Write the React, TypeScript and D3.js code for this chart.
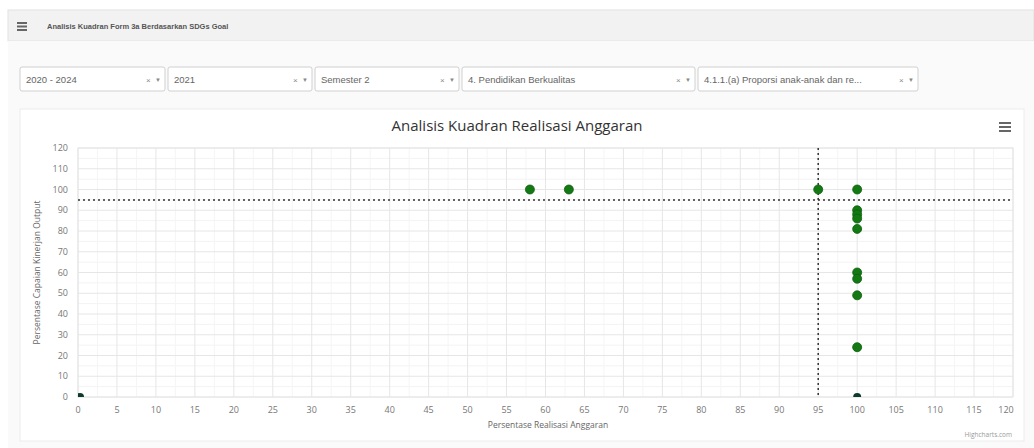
import React from "react";
import * as d3 from "d3";

const xTickLabels = [0,5,10,15,20,25,30,35,40,45,50,55,60,65,70,75,80,85,90,95,100,105,110,115,120];
const yTickLabels = [0,10,20,30,40,50,60,70,80,90,100,110,120];
const realisasi = [58, 63, 95, 100, 100, 100, 100, 100, 100, 100, 100, 100];
const capaian = [100, 100, 100, 100, 90, 88, 86, 81, 60, 57, 49, 24];
const zeroRealisasi = [0, 100];
const zeroCapaian = [0, 0];
const thresholdX = 95;
const thresholdY = 95;
const filters = ["2020 - 2024", "2021", "Semester 2", "4. Pendidikan Berkualitas", "4.1.1.(a) Proporsi anak-anak dan re..."];
const filterWidths = [145, 144, 144, 233, 220];

export default function App() {
  const W = 1034, H = 448;
  const L = 78, R = 1013, T = 148, B = 397;
  const x = d3.scaleLinear().domain([0, 120]).range([L, R]);
  const y = d3.scaleLinear().domain([0, 120]).range([B, T]);
  const font = "'Open Sans', 'DejaVu Sans', sans-serif";
  const filterFont = "'Liberation Sans', Arial, sans-serif";
  const minorY = d3.range(5, 120, 10);
  const minorX = d3.range(2.5, 120, 5);

  let fx = 20;
  const boxes = filters.map((f, i) => {
    const b = { x: fx, w: filterWidths[i], t: f };
    fx += filterWidths[i] + 3;
    return b;
  });

  return (
    <svg width={W} height={H} style={{ position: "absolute", left: 0, top: 0, background: "#fff" }} fontFamily={font}>
      <defs>
        <clipPath id="plotclip"><rect x={L} y={T} width={R - L} height={B - T} /></clipPath>
      </defs>
      {/* page panel */}
      <rect x={8} y={10} width={W - 8} height={H - 10} fill="#f7f7f7" />
      <rect x={8} y={10} width={W - 8} height={31} fill="#f2f2f2" stroke="#e2e2e2" />
      <g fill="#666">
        <rect x={17} y={22} width={10} height={2} />
        <rect x={17} y={25.5} width={10} height={2} />
        <rect x={17} y={29} width={10} height={2} />
      </g>
      <text x={47} y={29} fontSize={7.5} fill="#555" fontFamily={filterFont} fontWeight="bold">Analisis Kuadran Form 3a Berdasarkan SDGs Goal</text>
      <rect x={8} y={41} width={W - 8} height={H - 41} fill="#fafafa" />

      {/* filters */}
      {boxes.map((b, i) => (
        <g key={i} fontFamily={filterFont}>
          <rect x={b.x} y={67} width={b.w} height={24} fill="#fff" stroke="#d0d0d0" rx={2} />
          <text x={b.x + 6} y={83} fontSize={9.5} fill="#666">{b.t}</text>
          <text x={b.x + b.w - 19} y={83} fontSize={8} fill="#888">×</text>
          <text x={b.x + b.w - 10} y={82} fontSize={6} fill="#888">▼</text>
        </g>
      ))}

      {/* chart card */}
      <rect x={20} y={109} width={1004} height={332} fill="#fff" stroke="#ececec" />
      <text x={517} y={131} textAnchor="middle" fontSize={15} fill="#333">Analisis Kuadran Realisasi Anggaran</text>
      <g fill="#666">
        <rect x={999} y={122} width={12} height={2} />
        <rect x={999} y={126} width={12} height={2} />
        <rect x={999} y={130} width={12} height={2} />
      </g>

      {/* grid */}
      {minorY.map(v => <line key={"my" + v} x1={L} x2={R} y1={y(v)} y2={y(v)} stroke="#f3f3f3" />)}
      {minorX.map(v => <line key={"mx" + v} x1={x(v)} x2={x(v)} y1={T} y2={B} stroke="#f5f5f5" />)}
      {yTickLabels.map(v => <line key={"gy" + v} x1={L} x2={R} y1={y(v)} y2={y(v)} stroke="#e6e6e6" />)}
      {xTickLabels.map(v => <line key={"gx" + v} x1={x(v)} x2={x(v)} y1={T} y2={B} stroke="#e6e6e6" />)}
      <rect x={L} y={T} width={R - L} height={B - T} fill="none" stroke="#e6e6e6" />

      {/* tick labels */}
      {yTickLabels.map(v => (
        <text key={"ty" + v} x={L - 10} y={y(v) + 3} textAnchor="end" fontSize={9} fill="#777">{v}</text>
      ))}
      {xTickLabels.map(v => (
        <text key={"tx" + v} x={v === 120 ? x(v) - 7 : x(v)} y={B + 16} textAnchor="middle" fontSize={9} fill="#777">{v}</text>
      ))}
      <text x={548} y={428} textAnchor="middle" fontSize={8.5} fill="#666">Persentase Realisasi Anggaran</text>
      <text transform={`translate(40,${(T + B) / 2}) rotate(-90)`} textAnchor="middle" fontSize={8.5} fill="#666">Persentase Capaian Kinerjan Output</text>

      {/* threshold lines */}
      <line x1={L} x2={R} y1={y(thresholdY)} y2={y(thresholdY)} stroke="#333" strokeWidth={1.5} strokeDasharray="2,3" />
      <line x1={x(thresholdX)} x2={x(thresholdX)} y1={T} y2={B} stroke="#333" strokeWidth={1.5} strokeDasharray="2,3" />

      {/* points */}
      <g clipPath="url(#plotclip)">
        {zeroRealisasi.map((v, i) => (
          <circle key={"z" + i} cx={x(v) + (v === 0 ? 2 : 0)} cy={y(zeroCapaian[i])} r={4} fill="#0e3b2c" />
        ))}
      </g>
      {realisasi.map((v, i) => (
        <circle key={"p" + i} cx={x(v)} cy={y(capaian[i])} r={4.5} fill="#137a13" stroke="#0c5e0c" strokeWidth={0.8} />
      ))}

      <text x={1012} y={437} textAnchor="end" fontSize={6.5} fill="#999">Highcharts.com</text>
    </svg>
  );
}
